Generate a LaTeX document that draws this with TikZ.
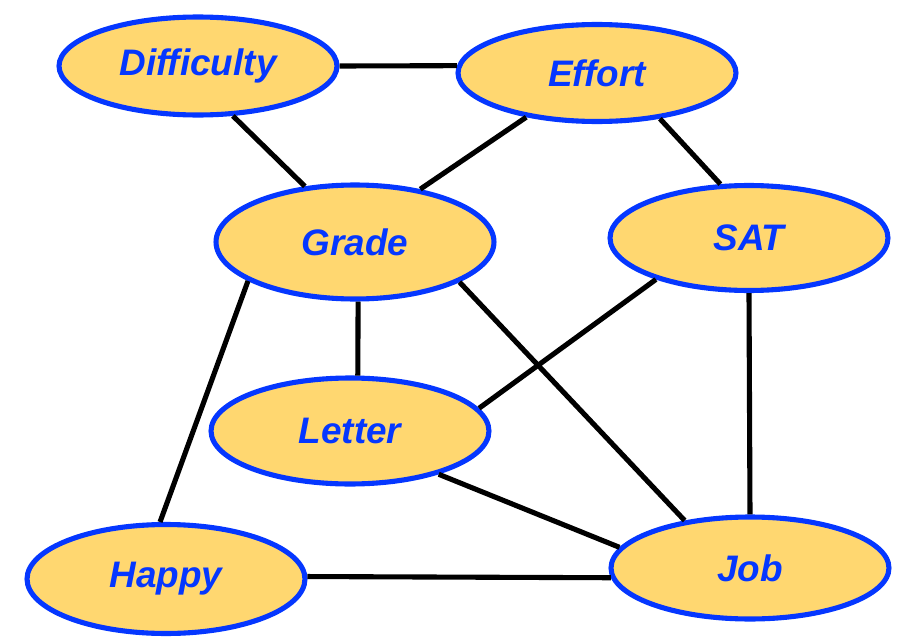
\documentclass[tikz,border=0pt]{standalone}
\usepackage{fontspec}
\setmainfont{Liberation Sans}
\usetikzlibrary{shapes.geometric}
\definecolor{nodefill}{RGB}{255,215,112}
\definecolor{nodeblue}{RGB}{5,55,255}
\tikzset{
  var/.style={ellipse,draw=nodeblue,fill=nodefill,line width=2.9pt,inner sep=0pt,
    minimum width=5.56cm,text=nodeblue,font=\fontsize{21}{25}\selectfont\bfseries\itshape},
  edge/.style={line width=2.9pt}
}
\begin{document}
\begin{tikzpicture}[x=0.02cm,y=-0.02cm]
\useasboundingbox (0,0) rectangle (910,639);
\node[var,minimum height=1.96cm] (diff) at (198,66) {Difficulty};
\node[var,minimum height=1.94cm] (effort) at (597,73) {Effort};
\node[var,minimum height=2.28cm] (grade) at (355,242) {Grade};
\node[var,minimum height=2.10cm] (sat) at (749,238) {SAT};
\node[var,minimum height=2.12cm] (letter) at (350,431) {Letter};
\node[var,minimum height=2.18cm] (happy) at (166,579) {Happy};
\node[var,minimum height=2.04cm] (job) at (750,568) {Job};
\draw[edge] (diff.0) -- (effort.177);
\draw[edge] (diff.-55) -- (grade.132);
\draw[edge] (effort.212) -- (grade.39);
\draw[edge] (effort.324) -- (sat.118);
\draw[edge] (grade.273) -- (letter.82);
\draw[edge] (grade.200) -- (happy.96);
\draw[edge] (grade.339) -- (job.144);
\draw[edge] (sat.204) -- (letter.10);
\draw[edge] (sat.270) -- (job.90);
\draw[edge] (letter.334) -- (job.171);
\draw[edge] (happy.1) -- (job.184);
\end{tikzpicture}
\end{document}
